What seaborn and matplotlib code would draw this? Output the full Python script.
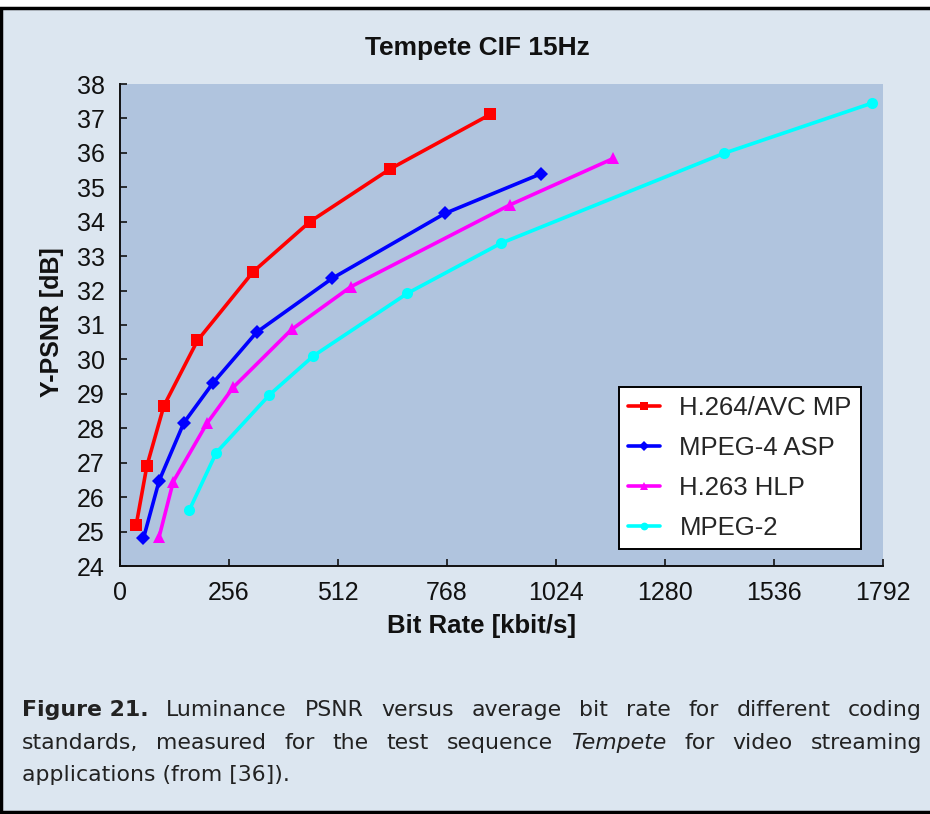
import pandas as pd
import seaborn as sns
import matplotlib.pyplot as plt
from matplotlib.patches import Rectangle

# data (bit rate in kbit/s, Y-PSNR in dB)
codecs = ['H.264/AVC MP', 'MPEG-4 ASP', 'H.263 HLP', 'MPEG-2']
h264_rate = [38, 63, 103, 182, 313, 446, 634, 870]
h264_psnr = [25.19, 26.90, 28.65, 30.55, 32.55, 34.00, 35.53, 37.12]
mpeg4_rate = [55, 92, 150, 218, 321, 499, 763, 988]
mpeg4_psnr = [24.80, 26.48, 28.16, 29.31, 30.79, 32.36, 34.24, 35.39]
h263_rate = [92, 125, 204, 266, 403, 542, 916, 1159]
h263_psnr = [24.85, 26.45, 28.14, 29.19, 30.87, 32.11, 34.49, 35.84]
mpeg2_rate = [163, 226, 351, 454, 675, 894, 1419, 1765]
mpeg2_psnr = [25.63, 27.29, 28.97, 30.10, 31.92, 33.37, 35.99, 37.44]

x_ticks = [0, 256, 512, 768, 1024, 1280, 1536, 1792]
y_ticks = list(range(24, 39))

rates = [h264_rate, mpeg4_rate, h263_rate, mpeg2_rate]
psnrs = [h264_psnr, mpeg4_psnr, h263_psnr, mpeg2_psnr]
colors = ['#ff0000', '#0000ff', '#ff00ff', '#00ffff']
markers = ['s', 'D', '^', 'o']
msizes = [8.5, 7, 9, 8]

sns.set_style('ticks')
plt.rcParams['font.family'] = ['Liberation Sans', 'DejaVu Sans']

fig = plt.figure(figsize=(9.3, 8.14), dpi=100)
fig.patch.set_facecolor('white')
# light panel with the black frame (left, top, bottom)
fig.patches.append(Rectangle((0.0015, 0.002), 1.1, 1 - 8 / 814 - 0.002, transform=fig.transFigure,
                             facecolor='#dce6f0', edgecolor='black', linewidth=2.5, zorder=-10))

ax = fig.add_axes([120 / 930, 1 - 566 / 814, 763 / 930, 482 / 814])
ax.set_facecolor('#b0c4de')

for i in range(len(codecs)):
    df = pd.DataFrame({'rate': rates[i], 'psnr': psnrs[i]})
    sns.lineplot(data=df, x='rate', y='psnr', ax=ax, color=colors[i], marker=markers[i],
                 markersize=msizes[i], markeredgecolor=colors[i], markeredgewidth=0,
                 linewidth=2.6, sort=False, estimator=None, label=codecs[i])

ax.set_xlim(0, 1792)
ax.set_ylim(24, 38)
ax.set_xticks(x_ticks)
ax.set_yticks(y_ticks)
ax.tick_params(direction='in', length=5, width=1.2, labelsize=18, pad=11, colors='#111111')
for side in ['top', 'right']:
    ax.spines[side].set_visible(False)
for side in ['left', 'bottom']:
    ax.spines[side].set_linewidth(1.4)
    ax.spines[side].set_color('#111111')

ax.set_xlabel('Bit Rate [kbit/s]', fontsize=18.5, fontweight='bold', color='#111111')
ax.set_ylabel('Y-PSNR [dB]', fontsize=18, fontweight='bold', color='#111111')
ax.xaxis.set_label_coords((482 - 120) / 763, (566 - 614) / 482)
ax.yaxis.set_label_coords((64 - 120) / 763, 0.506)

leg = ax.legend(loc='upper left', bbox_to_anchor=((619 - 120) / 763, (566 - 387) / 482),
                fontsize=18.5, frameon=True, fancybox=False, framealpha=1, edgecolor='black',
                handlelength=1.25, handletextpad=0.75, labelspacing=0.62, borderpad=0.35,
                borderaxespad=0, markerscale=0.7)
leg.get_frame().set_linewidth(1.4)

fig.text(477 / 930, 1 - 48 / 814, 'Tempete CIF 15Hz', fontsize=19, fontweight='bold',
         ha='center', va='center', color='#111111')

# justified caption below the chart
cap_family = ['DejaVu Sans']
cap_fs = 15.8
cap_lines = [
    [('Figure 21.', 'b'), ('Luminance', 'n'), ('PSNR', 'n'), ('versus', 'n'), ('average', 'n'),
     ('bit', 'n'), ('rate', 'n'), ('for', 'n'), ('different', 'n'), ('coding', 'n')],
    [('standards,', 'n'), ('measured', 'n'), ('for', 'n'), ('the', 'n'), ('test', 'n'),
     ('sequence', 'n'), ('Tempete', 'i'), ('for', 'n'), ('video', 'n'), ('streaming', 'n')],
    [('applications (from [36]).', 'n')],
]
baselines = [716, 749, 781]
left_px, right_px = 22, 922
renderer = fig.canvas.get_renderer()
for words, base in zip(cap_lines, baselines):
    texts = []
    for w, st in words:
        t = fig.text(0, 1 - base / 814, w, fontsize=cap_fs, family=cap_family, color='#222222',
                     fontweight='bold' if st == 'b' else 'normal',
                     fontstyle='italic' if st == 'i' else 'normal', ha='left', va='baseline')
        texts.append(t)
    widths = [t.get_window_extent(renderer).width for t in texts]
    if len(texts) > 1:
        gap = (right_px - left_px - sum(widths)) / (len(texts) - 1)
    else:
        gap = 0
    x = left_px
    for t, w in zip(texts, widths):
        t.set_x(x / 930)
        x += w + gap

fig.savefig('out.png', dpi=100, facecolor=fig.get_facecolor())
